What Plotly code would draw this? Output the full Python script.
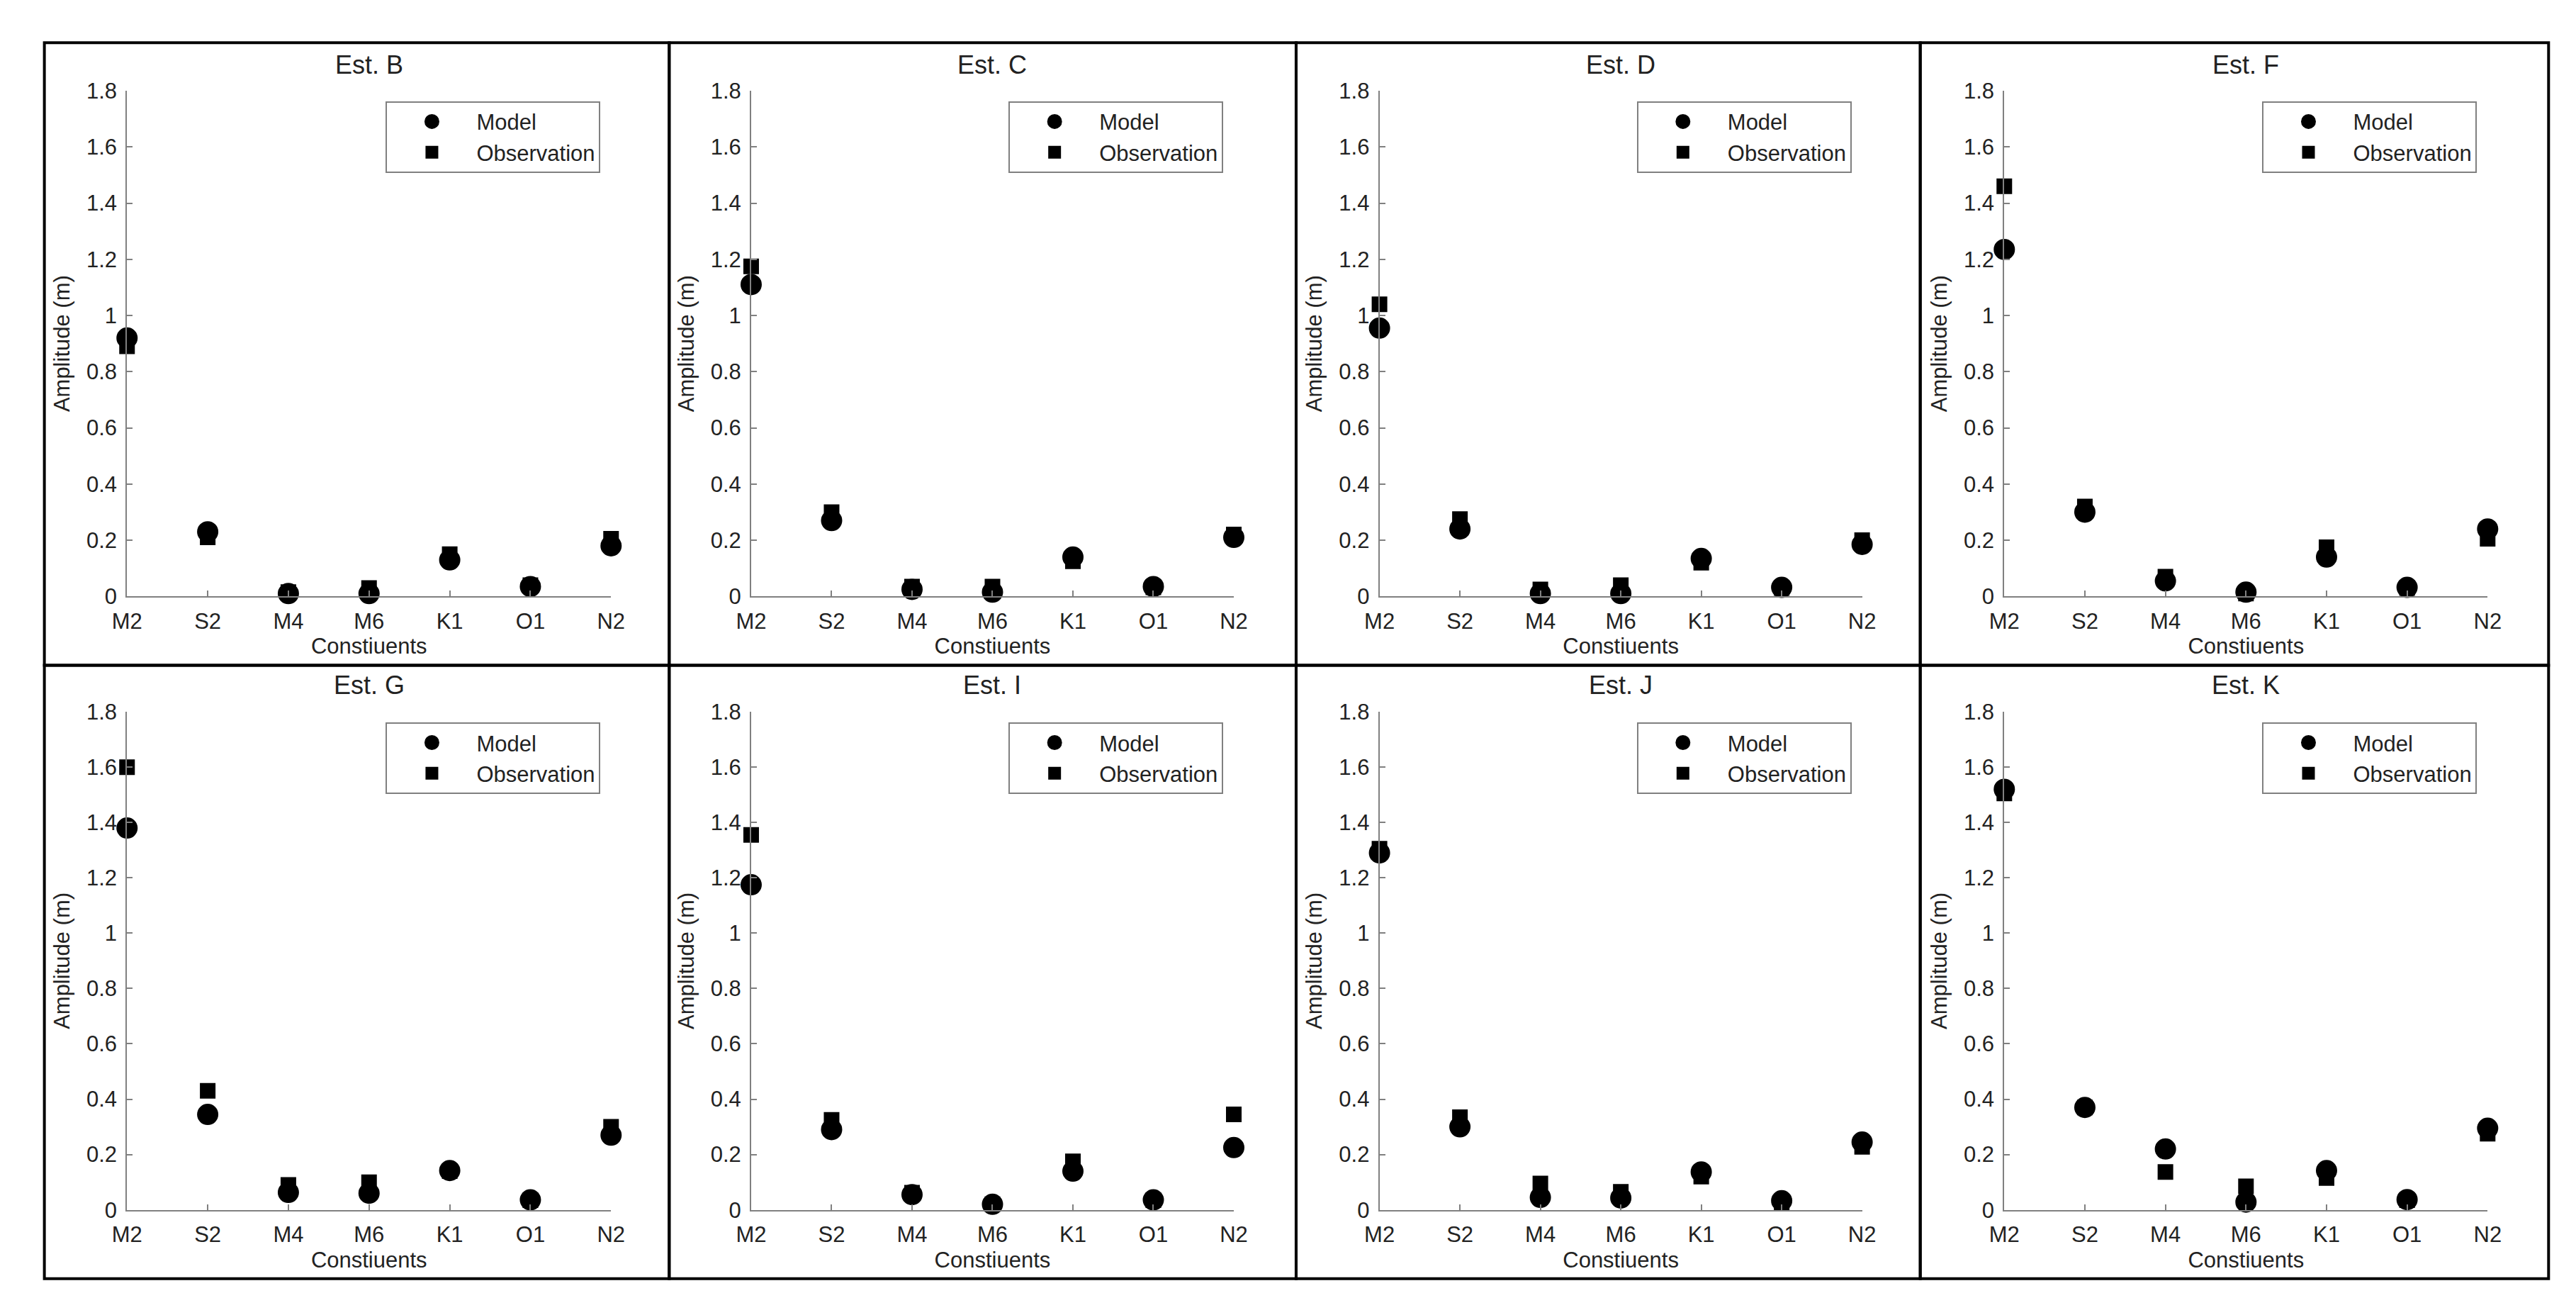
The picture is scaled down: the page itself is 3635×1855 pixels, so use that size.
import plotly.graph_objects as go

# ---------------- data ----------------
constituents = ["M2", "S2", "M4", "M6", "K1", "O1", "N2"]
stations = ["Est. B", "Est. C", "Est. D", "Est. F", "Est. G", "Est. I", "Est. J", "Est. K"]

model_B = [0.92, 0.23, 0.01, 0.01, 0.13, 0.035, 0.18]
obs_B   = [0.89, 0.21, 0.015, 0.03, 0.15, 0.04, 0.205]
model_C = [1.11, 0.27, 0.025, 0.015, 0.14, 0.035, 0.21]
obs_C   = [1.175, 0.30, 0.035, 0.035, 0.125, 0.032, 0.22]
model_D = [0.955, 0.24, 0.01, 0.01, 0.135, 0.032, 0.185]
obs_D   = [1.04, 0.275, 0.025, 0.04, 0.12, 0.03, 0.20]
model_F = [1.235, 0.30, 0.055, 0.015, 0.14, 0.032, 0.24]
obs_F   = [1.46, 0.32, 0.07, 0.01, 0.175, 0.03, 0.205]
model_G = [1.38, 0.345, 0.063, 0.06, 0.142, 0.036, 0.27]
obs_G   = [1.60, 0.43, 0.09, 0.10, 0.14, 0.035, 0.30]
model_I = [1.175, 0.29, 0.055, 0.02, 0.14, 0.036, 0.225]
obs_I   = [1.355, 0.325, 0.062, 0.02, 0.175, 0.035, 0.345]
model_J = [1.29, 0.30, 0.045, 0.043, 0.137, 0.033, 0.245]
obs_J   = [1.305, 0.335, 0.095, 0.065, 0.12, 0.025, 0.228]
model_K = [1.52, 0.37, 0.22, 0.028, 0.142, 0.037, 0.295]
obs_K   = [1.505, 0.37, 0.137, 0.085, 0.115, 0.035, 0.275]

model_series = [model_B, model_C, model_D, model_F, model_G, model_I, model_J, model_K]
obs_series = [obs_B, obs_C, obs_D, obs_F, obs_G, obs_I, obs_J, obs_K]

y_tickvals = [0, 0.2, 0.4, 0.6, 0.8, 1.0, 1.2, 1.4, 1.6, 1.8]
y_ticktext = ["0", "0.2", "0.4", "0.6", "0.8", "1", "1.2", "1.4", "1.6", "1.8"]

# ---------------- layout geometry (pixels) ----------------
W, H = 3635, 1855
col_x = [(151, 842), (1042, 1731), (1939, 2628), (2831, 3521)]
row_y = [(105, 832), (998, 1714)]
panel_x = [33, 925, 1820, 2711, 3608]
panel_y = [36, 931, 1813]
title_y = [68, 960]

FONT = "Liberation Sans, Arial, sans-serif"
TXT = "#222222"
AX = "#808080"

def px_x(v):
    return v / W

def px_y(v):
    return 1 - v / H

fig = go.Figure()
layout = dict(
    width=W, height=H,
    margin=dict(l=0, r=0, t=0, b=0),
    paper_bgcolor="white", plot_bgcolor="white",
    font=dict(family=FONT, size=31, color=TXT),
    showlegend=True,
)
annotations = []
shapes = []

for i, name in enumerate(stations):
    r, c = divmod(i, 4)
    idx = "" if i == 0 else str(i + 1)
    x0, x1 = col_x[c]
    yt, yb = row_y[r]
    leg = "legend" if i == 0 else f"legend{i + 1}"

    fig.add_trace(go.Scatter(
        x=constituents, y=model_series[i], mode="markers", name="Model",
        marker=dict(symbol="circle", size=25, color="black",
                    line=dict(color="black", width=5)),
        cliponaxis=False, xaxis="x" + idx, yaxis="y" + idx, legend=leg,
    ))
    fig.add_trace(go.Scatter(
        x=constituents, y=obs_series[i], mode="markers", name="Observation",
        marker=dict(symbol="square", size=20, color="black",
                    line=dict(color="black", width=2)),
        cliponaxis=False, xaxis="x" + idx, yaxis="y" + idx, legend=leg,
    ))

    layout["xaxis" + idx] = dict(
        domain=[px_x(x0), px_x(x1)], anchor="y" + idx,
        type="category", categoryorder="array", categoryarray=constituents,
        range=[0, 6], showline=True, linecolor=AX, linewidth=2,
        ticks="inside", ticklen=8, tickwidth=2, tickcolor=AX,
        showgrid=False, zeroline=False, ticklabelstandoff=6,
        tickfont=dict(size=31, color=TXT, family=FONT),
        title=dict(text="Constiuents", standoff=8,
                   font=dict(size=31, color=TXT, family=FONT)),
        fixedrange=True,
    )
    layout["yaxis" + idx] = dict(
        domain=[px_y(yb), px_y(yt)], anchor="x" + idx,
        range=[0, 1.8], tickmode="array", tickvals=y_tickvals, ticktext=y_ticktext,
        showline=True, linecolor=AX, linewidth=2,
        ticks="inside", ticklen=8, tickwidth=2, tickcolor=AX,
        showgrid=False, zeroline=False, ticklabelstandoff=6,
        tickfont=dict(size=31, color=TXT, family=FONT),
        title=dict(text="Amplitude (m)", standoff=14,
                   font=dict(size=31, color=TXT, family=FONT)),
        fixedrange=True,
    )
    layout[leg] = dict(
        x=px_x(x1 - 15), xanchor="right",
        y=px_y(yt + 15), yanchor="top",
        bgcolor="white", bordercolor=AX, borderwidth=2,
        font=dict(size=31, color=TXT, family=FONT),
        itemwidth=116, tracegroupgap=0,
    )
    annotations.append(dict(
        text=name, x=px_x((x0 + x1) / 2), y=px_y(title_y[r]),
        xref="paper", yref="paper", xanchor="center", yanchor="middle",
        showarrow=False, font=dict(size=36, color=TXT, family=FONT),
    ))
    shapes.append(dict(
        type="rect", xref="paper", yref="paper",
        x0=px_x(panel_x[c]), x1=px_x(panel_x[c + 1]),
        y0=px_y(panel_y[r + 1]), y1=px_y(panel_y[r]),
        line=dict(color="black", width=4), fillcolor="rgba(0,0,0,0)",
        layer="above",
    ))

layout["annotations"] = annotations
layout["shapes"] = shapes
fig.update_layout(**layout)
fig.write_html("out.html")
